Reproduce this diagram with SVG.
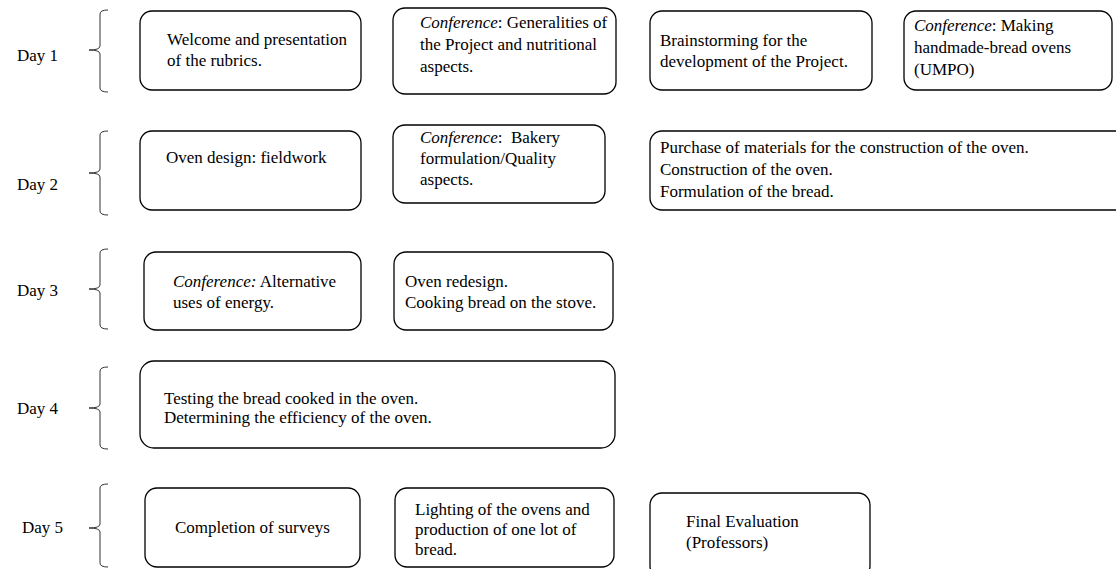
<svg xmlns="http://www.w3.org/2000/svg" width="1116" height="569" viewBox="0 0 1116 569">
<style>
.box{fill:#fff;stroke:#000;stroke-width:1.3}
.br{fill:none;stroke:#333;stroke-width:1}
text{font-family:"Liberation Serif","Times New Roman",serif;font-size:17px;fill:#000}
.it{font-style:italic}
</style>
<rect width="1116" height="569" fill="#fff"/>
<g id="connectors">
<path class="br" d="M108,10 Q100,10 100,14 V46 Q100,50 89,50 Q100,50 100,54 V88 Q100,92 108,92"/>
<path class="br" d="M108,131 Q100,131 100,135 V169 Q100,173 89,173 Q100,173 100,177 V211 Q100,215 108,215"/>
<path class="br" d="M108,249 Q100,249 100,253 V285 Q100,289 89,289 Q100,289 100,293 V325 Q100,329 108,329"/>
<path class="br" d="M108,367 Q100,367 100,371 V404 Q100,408 89,408 Q100,408 100,412 V445 Q100,449 108,449"/>
<path class="br" d="M108,484 Q100,484 100,488 V524 Q100,528 89,528 Q100,528 100,532 V563 Q100,567 108,567"/>
</g>
<g id="day1"><text x="17" y="61">Day 1</text></g>
<g id="day2"><text x="17" y="190">Day 2</text></g>
<g id="day3"><text x="17" y="296">Day 3</text></g>
<g id="day4"><text x="17" y="414">Day 4</text></g>
<g id="day5"><text x="22" y="533">Day 5</text></g>

<g id="d1a"><rect class="box" x="140" y="11" width="221" height="79" rx="12"/>
<text x="167" y="45">Welcome and presentation</text><text x="167" y="66">of the rubrics.</text></g>
<g id="d1b"><rect class="box" x="393" y="8" width="223" height="86" rx="12"/>
<text x="420" y="28"><tspan class="it">Conference</tspan>: Generalities of</text><text x="420" y="50">the Project and nutritional</text><text x="420" y="72">aspects.</text></g>
<g id="d1c"><rect class="box" x="650" y="11" width="222" height="79" rx="12"/>
<text x="660" y="46">Brainstorming for the</text><text x="660" y="67">development of the Project.</text></g>
<g id="d1d"><rect class="box" x="904" y="11" width="208" height="79" rx="12"/>
<text x="914" y="31"><tspan class="it">Conference</tspan>: Making</text><text x="914" y="53">handmade-bread ovens</text><text x="914" y="75">(UMPO)</text></g>

<g id="d2a"><rect class="box" x="140" y="131" width="221" height="79" rx="12"/>
<text x="166" y="163">Oven design: fieldwork</text></g>
<g id="d2b"><rect class="box" x="393" y="125" width="212" height="78" rx="12"/>
<text x="420" y="143" xml:space="preserve"><tspan class="it">Conference</tspan>:  Bakery</text><text x="420" y="164">formulation/Quality</text><text x="420" y="185">aspects.</text></g>
<g id="d2c"><rect class="box" x="650" y="131" width="480" height="79" rx="12"/>
<text x="660" y="153">Purchase of materials for the construction of the oven.</text><text x="660" y="175">Construction of the oven.</text><text x="660" y="197">Formulation of the bread.</text></g>

<g id="d3a"><rect class="box" x="144" y="252" width="217" height="78" rx="12"/>
<text x="173" y="287"><tspan class="it">Conference:</tspan> Alternative</text><text x="173" y="308">uses of energy.</text></g>
<g id="d3b"><rect class="box" x="394" y="252" width="219" height="78" rx="12"/>
<text x="405" y="287">Oven redesign.</text><text x="405" y="308">Cooking bread on the stove.</text></g>

<g id="d4"><rect class="box" x="140" y="361" width="475" height="87" rx="14"/>
<text x="164" y="404">Testing the bread cooked in the oven.</text><text x="164" y="423">Determining the efficiency of the oven.</text></g>

<g id="d5a"><rect class="box" x="145" y="488" width="215" height="79" rx="12"/>
<text x="175" y="533">Completion of surveys</text></g>
<g id="d5b"><rect class="box" x="395" y="488" width="219" height="79" rx="12"/>
<text x="415" y="515">Lighting of the ovens and</text><text x="415" y="535">production of one lot of</text><text x="415" y="555">bread.</text></g>
<g id="d5c"><rect class="box" x="650" y="493" width="220" height="85" rx="12"/>
<text x="686" y="527">Final Evaluation</text><text x="686" y="548">(Professors)</text></g>
</svg>
